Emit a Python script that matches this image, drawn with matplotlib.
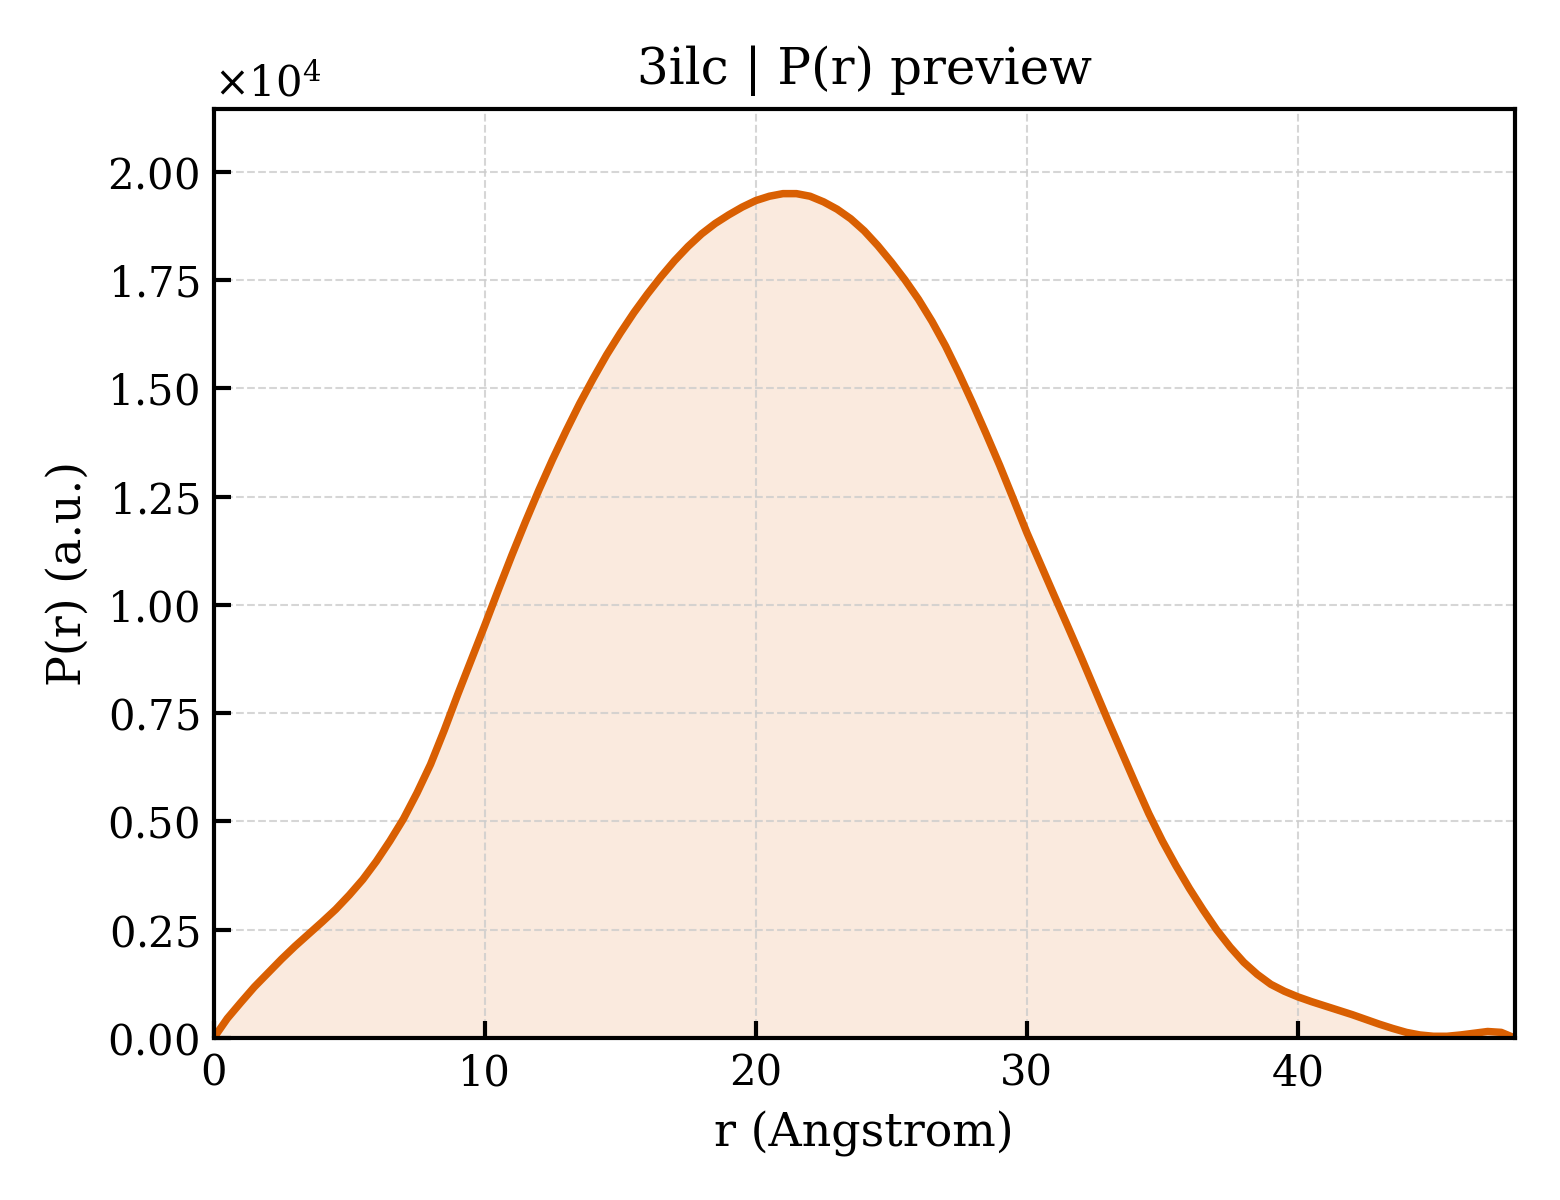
import numpy as np
import matplotlib
matplotlib.use("Agg")
import matplotlib.pyplot as plt

# P(r) (r in Angstrom, passo 0.5; P in unita' arbitrarie)
r_vals = [0.0, 0.5, 1.0, 1.5, 2.0, 2.5, 3.0, 3.5, 4.0, 4.5,
          5.0, 5.5, 6.0, 6.5, 7.0, 7.5, 8.0, 8.5, 9.0, 9.5,
          10.0, 10.5, 11.0, 11.5, 12.0, 12.5, 13.0, 13.5, 14.0, 14.5,
          15.0, 15.5, 16.0, 16.5, 17.0, 17.5, 18.0, 18.5, 19.0, 19.5,
          20.0, 20.5, 21.0, 21.5, 22.0, 22.5, 23.0, 23.5, 24.0, 24.5,
          25.0, 25.5, 26.0, 26.5, 27.0, 27.5, 28.0, 28.5, 29.0, 29.5,
          30.0, 30.5, 31.0, 31.5, 32.0, 32.5, 33.0, 33.5, 34.0, 34.5,
          35.0, 35.5, 36.0, 36.5, 37.0, 37.5, 38.0, 38.5, 39.0, 39.5,
          40.0, 40.5, 41.0, 41.5, 42.0, 42.5, 43.0, 43.5, 44.0, 44.5,
          45.0, 45.5, 46.0, 46.5, 47.0, 47.5, 48.0]
p_vals = [0, 450, 820, 1180, 1500, 1820, 2120, 2400, 2680, 2970,
          3300, 3660, 4080, 4550, 5060, 5660, 6320, 7100, 7930, 8730,
          9530, 10350, 11150, 11920, 12660, 13360, 14020, 14650, 15230, 15780,
          16280, 16750, 17180, 17580, 17950, 18280, 18570, 18810, 19010, 19190,
          19340, 19440, 19500, 19500, 19440, 19310, 19140, 18920, 18640, 18300,
          17920, 17510, 17060, 16550, 15980, 15340, 14660, 13950, 13220, 12450,
          11670, 10950, 10230, 9520, 8800, 8060, 7320, 6600, 5880, 5180,
          4550, 3980, 3450, 2960, 2500, 2100, 1750, 1470, 1240, 1080,
          950, 840, 740, 640, 540, 430, 320, 220, 130, 70,
          40, 40, 70, 110, 150, 130, 0]

titolo = "3ilc | P(r) preview"
colore = "#d95f02"

plt.rcParams["font.family"] = "DejaVu Serif"
plt.rcParams["mathtext.fontset"] = "dejavuserif"

r = np.array(r_vals, dtype=float)
p = np.array(p_vals, dtype=float)

fig, ax = plt.subplots(figsize=(5.2, 4), dpi=300)
fig.subplots_adjust(left=0.137, right=0.971, top=0.909, bottom=0.135)

ax.plot(r, p, color=colore, lw=1.8)
ax.fill_between(r, 0, p, color=colore, alpha=0.13, lw=0)

ax.set_xlim(0, 48)
ax.set_ylim(0, p.max() * 1.1)
ax.set_xlabel("r (Angstrom)", fontsize=11)
ax.set_ylabel("P(r) (a.u.)", fontsize=11)
ax.set_title(titolo, fontsize=12)

ax.ticklabel_format(axis="y", style="sci", scilimits=(0, 0), useMathText=True)
ax.yaxis.get_offset_text().set_fontsize(10)
ax.tick_params(direction="in", length=4, width=1.0, labelsize=10)
ax.grid(True, linestyle="--", linewidth=0.5, color="#cccccc", alpha=0.8)
for s in ax.spines.values():
    s.set_linewidth(1.0)

fig.savefig("out.png", dpi=300)
